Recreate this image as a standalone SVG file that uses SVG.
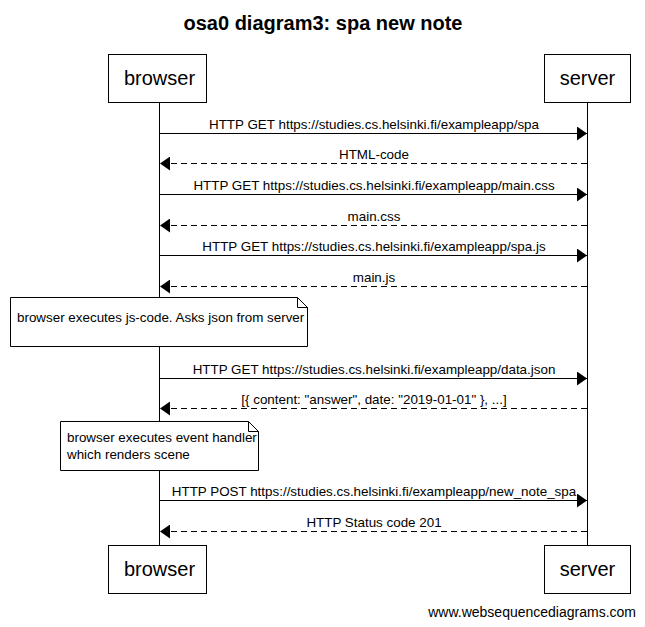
<svg xmlns="http://www.w3.org/2000/svg" width="645" height="627" viewBox="0 0 645 627">
<style>
.t{font-family:"Liberation Sans",Arial,sans-serif;fill:#000}
.lbl{font-size:13.4px;text-anchor:middle}
.act{font-size:20px;text-anchor:middle}
.box{fill:#fff;stroke:#000;stroke-width:1}
.ln{stroke:#000;stroke-width:1;fill:none}
.dash{stroke-dasharray:6,4}
.note{fill:#fff;stroke:#000;stroke-width:1}
</style>
<defs>
<marker id="ah" markerWidth="10" markerHeight="14" refX="10" refY="7" orient="auto" markerUnits="userSpaceOnUse">
<path d="M0,0 L10,7 L0,14 Z" fill="#000"/>
</marker>
</defs>
<rect width="645" height="627" fill="#fff"/>
<text class="t" x="323" y="30" font-size="20" font-weight="bold" text-anchor="middle">osa0 diagram3: spa new note</text>
<g id="lifelines">
<line class="ln" x1="159.5" y1="103" x2="159.5" y2="545"/>
<line class="ln" x1="587.5" y1="103" x2="587.5" y2="545"/>
</g>
<g id="browser">
<rect class="box" x="108.5" y="54.5" width="98" height="48"/>
<text class="t act" x="159.5" y="85">browser</text>
<rect class="box" x="108.5" y="545.5" width="98" height="48"/>
<text class="t act" x="159.5" y="576">browser</text>
</g>
<g id="server">
<rect class="box" x="544.5" y="54.5" width="86" height="48"/>
<text class="t act" x="587.5" y="85">server</text>
<rect class="box" x="544.5" y="545.5" width="86" height="48"/>
<text class="t act" x="587.5" y="576">server</text>
</g>
<g id="connectors">
<line class="ln" x1="160" y1="133.5" x2="587" y2="133.5" marker-end="url(#ah)"/>
<text class="t lbl" x="374" y="129">HTTP GET https://studies.cs.helsinki.fi/exampleapp/spa</text>
<line class="ln dash" x1="587" y1="163.5" x2="160" y2="163.5" marker-end="url(#ah)"/>
<text class="t lbl" x="374" y="159">HTML-code</text>
<line class="ln" x1="160" y1="194.5" x2="587" y2="194.5" marker-end="url(#ah)"/>
<text class="t lbl" x="374" y="190">HTTP GET https://studies.cs.helsinki.fi/exampleapp/main.css</text>
<line class="ln dash" x1="587" y1="225.5" x2="160" y2="225.5" marker-end="url(#ah)"/>
<text class="t lbl" x="374" y="221">main.css</text>
<line class="ln" x1="160" y1="255.5" x2="587" y2="255.5" marker-end="url(#ah)"/>
<text class="t lbl" x="374" y="251">HTTP GET https://studies.cs.helsinki.fi/exampleapp/spa.js</text>
<line class="ln dash" x1="587" y1="286.5" x2="160" y2="286.5" marker-end="url(#ah)"/>
<text class="t lbl" x="374" y="282">main.js</text>
<line class="ln" x1="160" y1="378.5" x2="587" y2="378.5" marker-end="url(#ah)"/>
<text class="t lbl" x="374" y="374">HTTP GET https://studies.cs.helsinki.fi/exampleapp/data.json</text>
<line class="ln dash" x1="587" y1="408.5" x2="160" y2="408.5" marker-end="url(#ah)"/>
<text class="t lbl" x="374" y="404">[{ content: "answer", date: "2019-01-01" }, ...]</text>
<line class="ln" x1="160" y1="500.5" x2="587" y2="500.5" marker-end="url(#ah)"/>
<text class="t lbl" x="374" y="496">HTTP POST https://studies.cs.helsinki.fi/exampleapp/new_note_spa</text>
<line class="ln dash" x1="587" y1="531.5" x2="160" y2="531.5" marker-end="url(#ah)"/>
<text class="t lbl" x="374" y="527">HTTP Status code 201</text>
</g>
<g id="note1">
<path class="note" d="M10.5,297.5 H297.5 L307.5,307.5 V346.5 H10.5 Z"/>
<path class="ln" d="M297.5,297.5 V307.5 H307.5"/>
<text class="t" x="17" y="322" font-size="13.4">browser executes js-code. Asks json from server</text>
</g>
<g id="note2">
<path class="note" d="M60.5,421.5 H248.5 L258.5,431.5 V470.5 H60.5 Z"/>
<path class="ln" d="M248.5,421.5 V431.5 H258.5"/>
<text class="t" x="67" y="442" font-size="13.4">browser executes event handler</text>
<text class="t" x="67" y="459" font-size="13.4">which renders scene</text>
</g>
<text class="t" x="636" y="617" font-size="14" text-anchor="end">www.websequencediagrams.com</text>
</svg>
